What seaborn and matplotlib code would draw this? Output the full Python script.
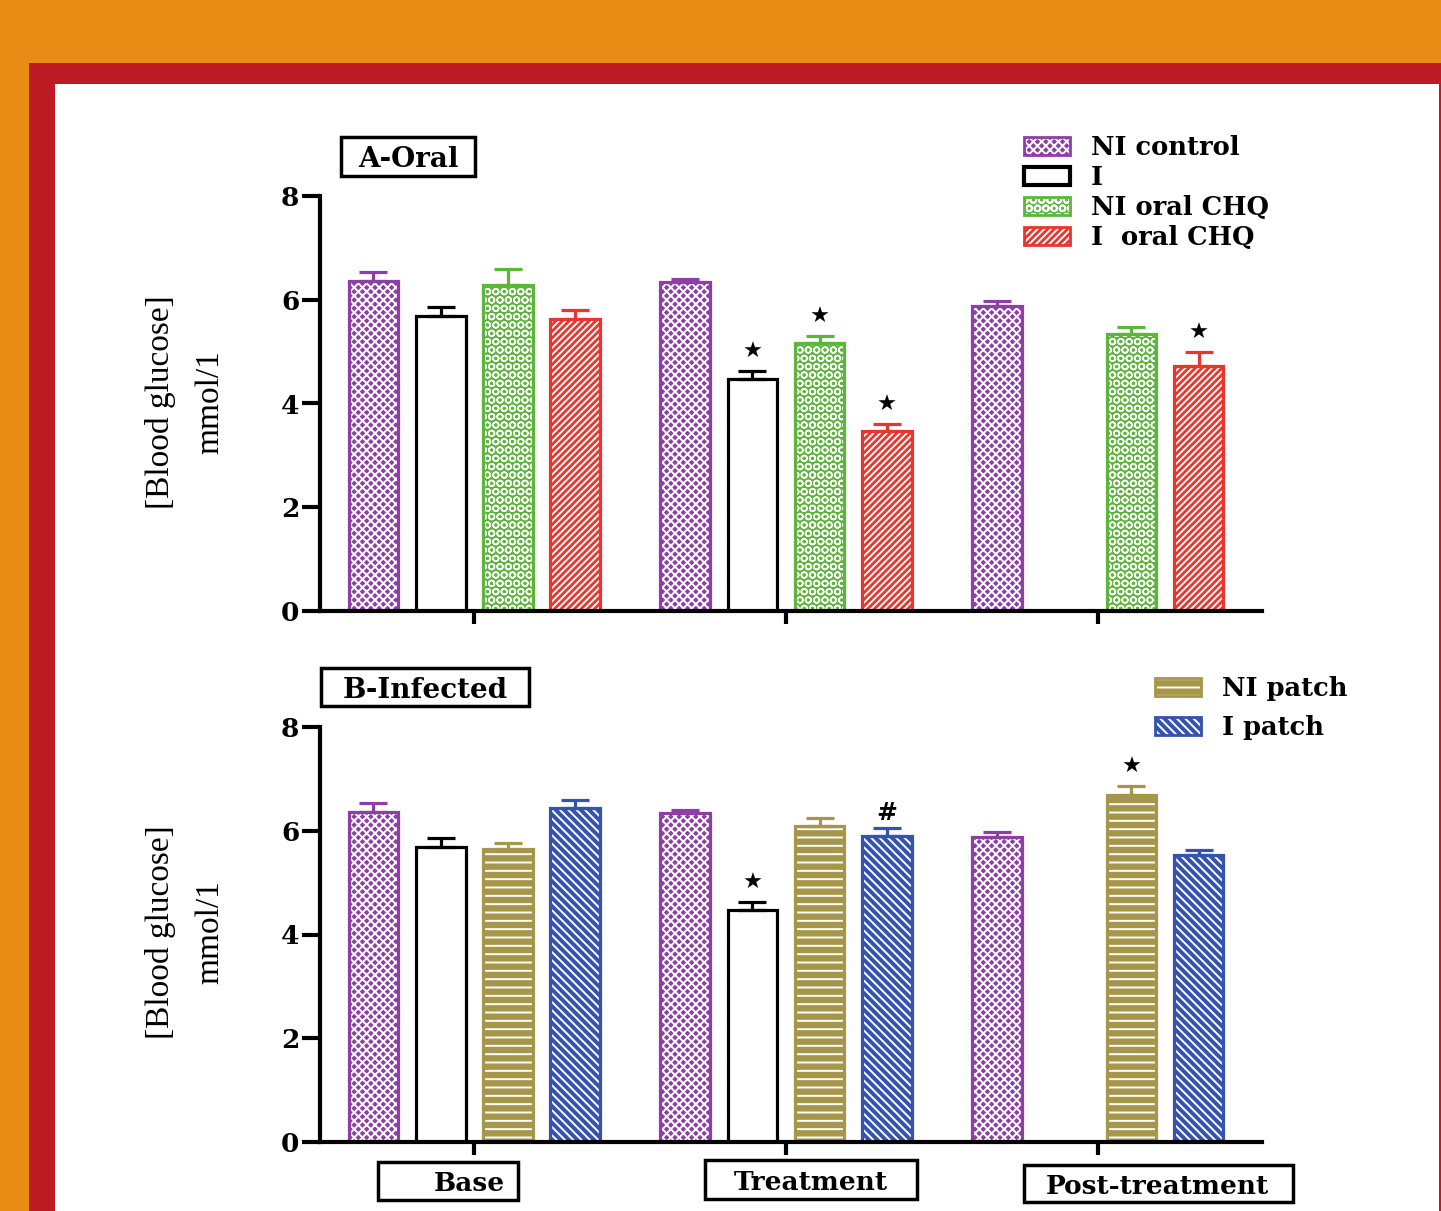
import numpy as np
import pandas as pd
import matplotlib
matplotlib.use("Agg")
import matplotlib.pyplot as plt
from matplotlib.patches import Rectangle, Patch
from matplotlib.legend_handler import HandlerTuple
import seaborn as sns

# ---------------- data ----------------
phases = ["Base", "Treatment", "Post-treatment"]

# Panel A: oral chloroquine
series_a = ["NI control", "I", "NI oral CHQ", "I  oral CHQ"]
ni_control = [6.36, 6.34, 5.88]
ni_control_err = [0.17, 0.06, 0.09]
infected = [5.68, 4.47, np.nan]
infected_err = [0.18, 0.15, np.nan]
ni_oral_chq = [6.28, 5.16, 5.34]
ni_oral_chq_err = [0.31, 0.14, 0.13]
i_oral_chq = [5.63, 3.47, 4.72]
i_oral_chq_err = [0.17, 0.13, 0.27]
marks_a = [("I", "Treatment", "★"), ("NI oral CHQ", "Treatment", "★"),
           ("I  oral CHQ", "Treatment", "★"), ("I  oral CHQ", "Post-treatment", "★")]

# Panel B: patch
series_b = ["NI control", "I", "NI patch", "I patch"]
ni_patch = [5.65, 6.09, 6.69]
ni_patch_err = [0.11, 0.15, 0.17]
i_patch = [6.43, 5.90, 5.53]
i_patch_err = [0.16, 0.15, 0.10]
marks_b = [("I", "Treatment", "★"), ("I patch", "Treatment", "#"),
           ("NI patch", "Post-treatment", "★")]

values_a = [ni_control, infected, ni_oral_chq, i_oral_chq]
errors_a = [ni_control_err, infected_err, ni_oral_chq_err, i_oral_chq_err]
values_b = [ni_control, infected, ni_patch, i_patch]
errors_b = [ni_control_err, infected_err, ni_patch_err, i_patch_err]

# styles per series: (colour, hatch, hatch line width)
styles = {
    "NI control": ("#8E3FA6", "xxxx", 1.4),
    "I": ("black", None, 0),
    "NI oral CHQ": ("#5BB63A", "OO", 1.1),
    "I  oral CHQ": ("#E8352E", "/////", 1.4),
    "NI patch": ("#A5964A", "--", 1.4),
    "I patch": ("#3452B0", "\\\\\\\\", 1.4),
}

plt.rcParams["hatch.linewidth"] = 1.4
SERIF_BOLD = dict(family="DejaVu Serif", weight="bold")

W, H = 1441, 1211
fig = plt.figure(figsize=(W / 100, H / 100), dpi=100, facecolor="#E98D17")


def fig_rect(x0, y0, x1, y1, **kw):
    """Rectangle given in pixel coordinates from the top-left corner."""
    fig.patches.append(Rectangle((x0 / W, 1 - y1 / H), (x1 - x0) / W, (y1 - y0) / H,
                                 transform=fig.transFigure, **kw))


# frame: red border and white sheet
fig_rect(29, 63, W, H, facecolor="#BE1A23", edgecolor="none", zorder=-2)
fig_rect(55, 84, 1439, H, facecolor="white", edgecolor="none", zorder=-1)

ax_a = fig.add_axes([320 / W, 1 - 611 / H, (1262 - 320) / W, (611 - 196) / H])
ax_b = fig.add_axes([320 / W, 1 - 1142 / H, (1262 - 320) / W, (1142 - 727) / H])
for a in (ax_a, ax_b):
    a.set_facecolor("none")


def set_hatch_width(patch, lw):
    if hasattr(patch, "set_hatch_linewidth"):
        patch.set_hatch_linewidth(lw)
    else:
        patch._hatch_linewidth = lw


def long_frame(series, values, errors):
    rows = []
    for s, vals, errs in zip(series, values, errors):
        for p, v, e in zip(phases, vals, errs):
            rows.append({"phase": p, "series": s, "value": v, "err": e})
    return pd.DataFrame(rows)


def draw_panel(ax, series, values, errors, marks):
    df = long_frame(series, values, errors)
    sns.barplot(data=df, x="phase", y="value", hue="series", order=phases,
                hue_order=series, dodge=True, width=0.86, gap=0.256,
                errorbar=None, legend=False, ax=ax)
    step = 0.86 / len(series)
    centers = {}
    for patch in list(ax.patches):
        h = patch.get_height()
        if not np.isfinite(h) or h == 0:
            patch.remove()
            continue
        cx = patch.get_x() + patch.get_width() / 2
        g = int(round(cx))
        k = int(round((cx - g) / step + (len(series) - 1) / 2))
        s = series[k]
        color, hatch, hlw = styles[s]
        if hatch is None:
            patch.set_facecolor("white")
            patch.set_edgecolor(color)
            patch.set_linewidth(2.3)
        else:
            patch.set_facecolor(color)
            patch.set_edgecolor("white")
            patch.set_hatch(hatch)
            set_hatch_width(patch, hlw)
            patch.set_linewidth(0)
            ax.add_patch(Rectangle(patch.get_xy(), patch.get_width(), h,
                                   fill=False, edgecolor=color, linewidth=2.3,
                                   zorder=patch.get_zorder() + 0.1))
        row = df[(df.series == s) & (df.phase == phases[g])].iloc[0]
        centers[(s, phases[g])] = (cx, row.value, row.err)
        ax.errorbar([cx], [row.value], yerr=[[0], [row.err]], fmt="none",
                    ecolor=color, elinewidth=2.3, capsize=10, capthick=2.3,
                    zorder=1)
    for s, p, sym in marks:
        cx, v, e = centers[(s, p)]
        if sym == "★":
            ax.annotate(sym, (cx, v + e), xytext=(0, 14), textcoords="offset points",
                        ha="center", va="center", fontsize=16,
                        family="DejaVu Sans", color="black")
        else:
            ax.annotate(sym, (cx, v + e), xytext=(0, 11), textcoords="offset points",
                        ha="center", va="center", fontsize=18, color="black",
                        **SERIF_BOLD)

    ax.set_xlim(-0.494, 2.526)
    ax.set_ylim(0, 8)
    ax.set_yticks([0, 2, 4, 6, 8])
    ax.set_yticklabels(["0", "2", "4", "6", "8"], fontsize=19, **SERIF_BOLD)
    ax.set_xticks([0, 1, 2])
    ax.set_xticklabels([])
    ax.set_xlabel("")
    ax.set_ylabel("")
    for side in ("top", "right"):
        ax.spines[side].set_visible(False)
    for side in ("left", "bottom"):
        ax.spines[side].set_linewidth(3)
        ax.spines[side].set_color("black")
    ax.tick_params(axis="y", length=13, width=3, pad=2, color="black")
    ax.tick_params(axis="x", length=9, width=3, color="black")

    handles = []
    for s in series:
        color, hatch, hlw = styles[s]
        if hatch is None:
            handles.append(Patch(facecolor="white", edgecolor=color, linewidth=3))
        else:
            fill = Patch(facecolor=color, edgecolor="white", hatch=hatch, linewidth=0)
            set_hatch_width(fill, hlw)
            handles.append((fill, Patch(fill=False, edgecolor=color, linewidth=2)))
    return handles


handles_a = draw_panel(ax_a, series_a, values_a, errors_a, marks_a)
handles_b = draw_panel(ax_b, series_b, values_b, errors_b, marks_b)

leg_kw = dict(loc="upper left", frameon=False,
              handler_map={tuple: HandlerTuple(ndivide=1)},
              prop=dict(size=18.5, **SERIF_BOLD), handlelength=1.8,
              handleheight=0.7, handletextpad=0.8, borderpad=0, borderaxespad=0)
fig.legend(handles_a, series_a, bbox_to_anchor=(1024 / W, 1 - 135 / H),
           labelspacing=0.2, **leg_kw)
fig.legend(handles_b[2:], series_b[2:], bbox_to_anchor=(1155 / W, 1 - 676 / H),
           labelspacing=0.56, **leg_kw)


def boxed(text, x0, y0, x1, y1, tx, size):
    """Label with a black frame; box and text centre given in pixels."""
    fig_rect(x0, y0, x1, y1, facecolor="white", edgecolor="black", linewidth=2.5)
    fig.text(tx / W, 1 - (y0 + y1) / 2 / H, text, ha="center", va="center_baseline",
             fontsize=size, **SERIF_BOLD)


boxed("A-Oral", 341, 137, 475, 176, 408, 20)
boxed("B-Infected", 321, 668, 529, 706, 425, 20)
boxed("Base", 378, 1162, 518, 1200, 469, 19)
boxed("Treatment", 705, 1160, 917, 1199, 811, 19)
boxed("Post-treatment", 1024, 1165, 1293, 1202, 1157, 19)

# y axis titles
for yc in (402, 932):
    fig.text(160 / W, 1 - yc / H, "[Blood glucose]", rotation=90, ha="center",
             va="center", fontsize=24, family="Liberation Serif")
    fig.text(210 / W, 1 - yc / H, "mmol/1", rotation=90, ha="center",
             va="center", fontsize=24, family="Liberation Serif")

fig.savefig("out.png", dpi=100, facecolor=fig.get_facecolor())
